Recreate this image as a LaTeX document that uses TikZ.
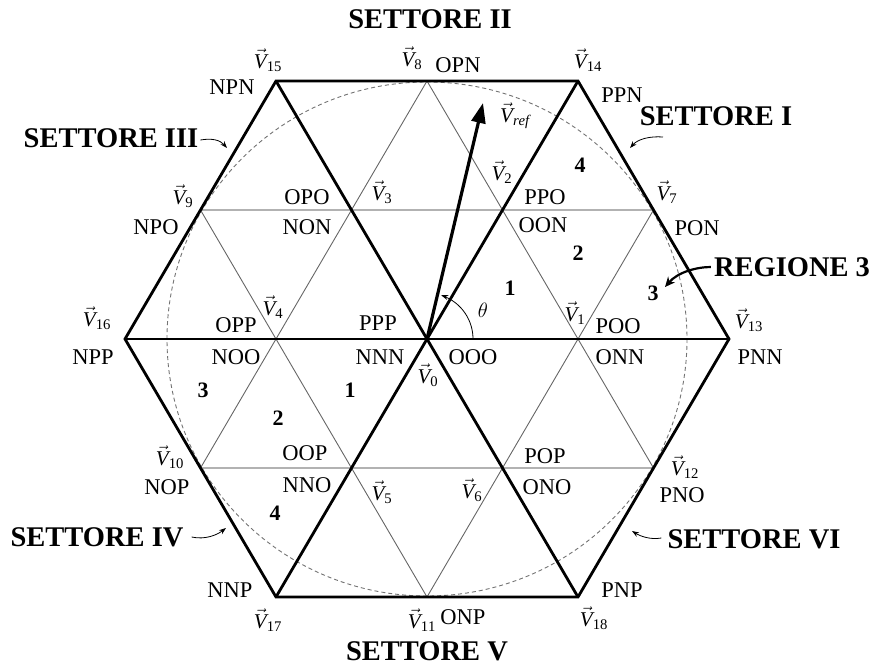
\documentclass[tikz,border=0pt]{standalone}
\usepackage{fontspec}
\setmainfont{Liberation Serif}
\usetikzlibrary{arrows.meta}
\newcommand\vlab[1]{$\vec{\mathit{V}}_{\mathrm{#1}}$}
\begin{document}
\begin{tikzpicture}[x=1pt,y=-1pt,
  lab/.style={font=\fontsize{22.5}{24}\selectfont, inner sep=0pt},
  vl/.style={font=\fontsize{21}{23}\selectfont, inner sep=0pt},
  num/.style={font=\bfseries\fontsize{22}{24}\selectfont, inner sep=0pt},
  sect/.style={font=\bfseries\fontsize{28.5}{30}\selectfont, inner sep=0pt},
  thick line/.style={line width=2.8pt, black, line join=miter},
  thin diag/.style={line width=0.9pt, black!60},
  thin hor/.style={line width=1.4pt, black!30},
  circ/.style={line width=0.9pt, black!55, dash pattern=on 4pt off 3pt},
  sarrow/.style={line width=0.8pt, -{Stealth[length=7pt,width=5pt]}},
]
\useasboundingbox (0,0) rectangle (873,666);
% grid points
\coordinate (O) at (427,339);
\coordinate (P16) at (125,339);
\coordinate (P4) at (276,339);
\coordinate (P1) at (578,339);
\coordinate (P13) at (729,339);
\coordinate (P9) at (200.5,210);
\coordinate (P3) at (351.5,210);
\coordinate (P2) at (502.5,210);
\coordinate (P7) at (653.5,210);
\coordinate (P15) at (276,81);
\coordinate (P8) at (427,81);
\coordinate (P14) at (578,81);
\coordinate (P10) at (200.5,468);
\coordinate (P5) at (351.5,468);
\coordinate (P6) at (502.5,468);
\coordinate (P12) at (653.5,468);
\coordinate (P17) at (276,597);
\coordinate (P11) at (427,597);
\coordinate (P18) at (578,597);
\coordinate (Ptip) at (483,103);

% thin lines
\draw[thin hor] (P9) -- (P7);
\draw[thin hor] (P10) -- (P12);
\draw[thin diag] (P8) -- (P10);
\draw[thin diag] (P8) -- (P12);
\draw[thin diag] (P9) -- (P11);
\draw[thin diag] (P7) -- (P11);

% dashed inscribed circle
\draw[circ] (O) ellipse [x radius=260, y radius=257];

% thick lines
\draw[thick line] (P13) -- (P14) -- (P15) -- (P16) -- (P17) -- (P18) -- cycle;
\draw[thick line] (P16) -- (P13);
\draw[thick line] (P15) -- (P18);
\draw[thick line] (P14) -- (P17);

% Vref
\draw[line width=3.2pt, -{Triangle[length=20pt,width=14pt]}] (O) -- (Ptip);
% theta arc
\draw[line width=0.8pt, -{Stealth[length=7pt,width=5pt]}]
  plot[domain=0:72, samples=30, smooth] ({427+46*cos(\x)},{339-46*sin(\x)});
\node[lab] (theta) at (483,310) {$\theta$};

% vector labels
\node[vl] (v15) at (268,60) {\vlab{15}};
\node[vl] (v8) at (412,58) {\vlab{8}};
\node[vl] (v14) at (588,60) {\vlab{14}};
\node[vl] (vref) at (515,116) {$\vec{\mathit{V}}_{\mathit{ref}}$};
\node[vl] (v2) at (502,172) {\vlab{2}};
\node[vl] (v3) at (382,192) {\vlab{3}};
\node[vl] (v9) at (183,196) {\vlab{9}};
\node[vl] (v7) at (667,192) {\vlab{7}};
\node[vl] (v16) at (97,318) {\vlab{16}};
\node[vl] (v4) at (273,307) {\vlab{4}};
\node[vl] (v1) at (575,313) {\vlab{1}};
\node[vl] (v13) at (749,320) {\vlab{13}};
\node[vl] (v0) at (428,375) {\vlab{0}};
\node[vl] (v10) at (170,457) {\vlab{10}};
\node[vl] (v5) at (382,492) {\vlab{5}};
\node[vl] (v6) at (472,490) {\vlab{6}};
\node[vl] (v12) at (685,467) {\vlab{12}};
\node[vl] (v17) at (268,620) {\vlab{17}};
\node[vl] (v11) at (422,620) {\vlab{11}};
\node[vl] (v18) at (594,618) {\vlab{18}};

% state labels
\node[lab] (npn) at (232,87) {NPN};
\node[lab] (opn) at (458,65) {OPN};
\node[lab] (ppn) at (622,95) {PPN};
\node[lab] (opo) at (307,197) {OPO};
\node[lab] (ppo) at (545,197) {PPO};
\node[lab] (npo) at (156,227) {NPO};
\node[lab] (non) at (307,227) {NON};
\node[lab] (oon) at (543,225) {OON};
\node[lab] (pon) at (697,228) {PON};
\node[lab] (opp) at (236,325) {OPP};
\node[lab] (ppp) at (378,323) {PPP};
\node[lab] (poo) at (618,326) {POO};
\node[lab] (npp) at (93,357) {NPP};
\node[lab] (noo) at (236,357) {NOO};
\node[lab] (nnn) at (380,357) {NNN};
\node[lab] (ooo) at (473,357) {OOO};
\node[lab] (onn) at (620,357) {ONN};
\node[lab] (pnn) at (760,357) {PNN};
\node[lab] (oop) at (305,453) {OOP};
\node[lab] (pop) at (545,456) {POP};
\node[lab] (nop) at (167,487) {NOP};
\node[lab] (nno) at (307,485) {NNO};
\node[lab] (ono) at (547,487) {ONO};
\node[lab] (pno) at (682,495) {PNO};
\node[lab] (nnp) at (230,590) {NNP};
\node[lab] (pnp) at (622,590) {PNP};
\node[lab] (onp) at (463,617) {ONP};

% region numbers
\node[num] (r4a) at (580,165) {4};
\node[num] (r2a) at (578,253) {2};
\node[num] (r1a) at (510,288) {1};
\node[num] (r3a) at (653,293) {3};
\node[num] (r3b) at (203,390) {3};
\node[num] (r1b) at (350,390) {1};
\node[num] (r2b) at (278,418) {2};
\node[num] (r4b) at (275,513) {4};

% sector titles
\node[sect] (s2) at (430,19) {SETTORE II};
\node[sect] (s1) at (716,116) {SETTORE I};
\node[sect] (s3) at (111,138) {SETTORE III};
\node[sect] (reg) at (792,267) {REGIONE 3};
\node[sect] (s4) at (97,537) {SETTORE IV};
\node[sect] (s6) at (754,539) {SETTORE VI};
\node[sect] (s5) at (427,651) {SETTORE V};

% sector pointer arrows
\coordinate (a3) at (227,148);
\coordinate (a1) at (630,148);
\coordinate (areg) at (665,287);
\coordinate (a4) at (226,528);
\coordinate (a6) at (632,531);
\draw[sarrow] (s3.east) ++(2,2) .. controls (212,138) and (220,140) .. (a3);
\draw[sarrow] (663,137) .. controls (650,136) and (638,139) .. (a1);
\draw[line width=2.2pt, -{Stealth[length=10pt,width=9pt]}] (reg.west) ++(-3,0) .. controls (697,267) and (678,272) .. (areg);
\draw[sarrow] (s4.east) ++(8,0) .. controls (205,540) and (217,535) .. (a4);
\draw[sarrow] (s6.west) ++(-6,-1) .. controls (650,540) and (640,536) .. (a6);
\end{tikzpicture}
\end{document}
